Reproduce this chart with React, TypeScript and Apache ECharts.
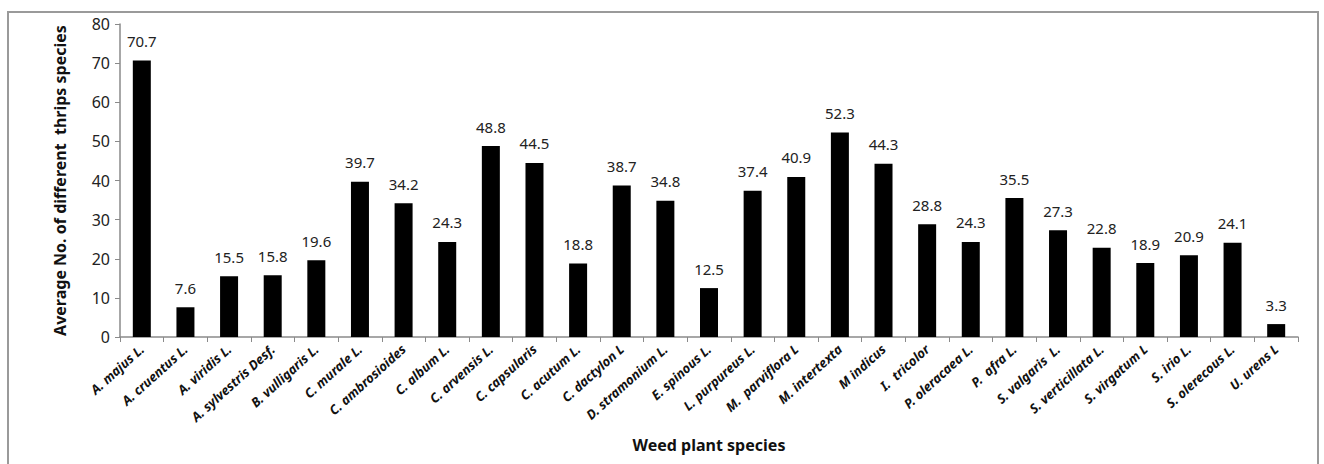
import React, { useEffect, useRef } from "react";
import * as echarts from "echarts";

const categories = [
  "A. majus L.", "A. cruentus L.", "A. viridis L.", "A. sylvestris Desf.", "B. vulligaris L.",
  "C. murale L.", "C. ambrosioides", "C. album L.", "C. arvensis L.", "C. capsularis",
  "C. acutum L.", "C. dactylon L", "D. stramonium L.", "E. spinous L.", "L. purpureus L.",
  "M.  parviflora L", "M. intertexta", "M indicus", "I.  tricolor", "P. oleracaea L.",
  "P.  afra L.", "S. valgaris  L.", "S. verticillata L.", "S. virgatum L", "S. irio L.",
  "S. olerecous L.", "U. urens L",
];

const values = [
  70.7, 7.6, 15.5, 15.8, 19.6, 39.7, 34.2, 24.3, 48.8, 44.5, 18.8, 38.7, 34.8, 12.5, 37.4,
  40.9, 52.3, 44.3, 28.8, 24.3, 35.5, 27.3, 22.8, 18.9, 20.9, 24.1, 3.3,
];

const yAxisName = "Average No. of different  thrips species";
const xAxisName = "Weed plant species";

export default function App() {
  const ref = useRef<HTMLDivElement>(null);
  useEffect(() => {
    if (!ref.current) return;
    const chart = echarts.init(ref.current, undefined, { renderer: "svg" });
    chart.setOption({
      animation: false,
      backgroundColor: "#fff",
      graphic: [
        {
          type: "rect",
          shape: { x: 8, y: 12, width: 1310, height: 470 },
          style: { fill: "none", stroke: "#9a9a9a", lineWidth: 2 },
          silent: true,
        },
      ],
      grid: { left: 120, right: 26, top: 24, bottom: 127, containLabel: false },
      xAxis: {
        type: "category",
        data: categories,
        name: xAxisName,
        nameLocation: "middle",
        nameGap: 100,
        nameTextStyle: { fontFamily: "Noto Sans", fontWeight: "bold", fontSize: 16, color: "#111" },
        axisLine: { lineStyle: { color: "#8a8a8a", width: 1.5 } },
        axisTick: { show: true, alignWithLabel: false, length: 5, lineStyle: { color: "#8a8a8a" } },
        axisLabel: {
          rotate: 42,
          interval: 0,
          margin: 10,
          fontFamily: "Noto Sans",
          fontStyle: "italic",
          fontWeight: "bold",
          fontSize: 13,
          color: "#111",
        },
      },
      yAxis: {
        type: "value",
        min: 0,
        max: 80,
        interval: 10,
        name: yAxisName,
        nameLocation: "middle",
        nameGap: 52,
        nameTextStyle: { fontFamily: "Noto Sans", fontWeight: "bold", fontSize: 16, color: "#111" },
        axisLine: { show: true, lineStyle: { color: "#8a8a8a", width: 1.5 } },
        axisTick: { show: true, length: 5, lineStyle: { color: "#8a8a8a" } },
        axisLabel: { fontFamily: "Noto Sans", fontSize: 16, color: "#222", margin: 10 },
        splitLine: { show: false },
      },
      series: [
        {
          type: "bar",
          data: values,
          barWidth: 18,
          itemStyle: { color: "#000" },
          label: {
            show: true,
            position: "top",
            distance: 12,
            fontFamily: "Noto Sans",
            fontSize: 15,
            color: "#222",
            formatter: (p: any) => p.value.toFixed(1),
          },
        },
      ],
    });
    return () => chart.dispose();
  }, []);
  return (
    <div
      ref={ref}
      style={{ position: "absolute", left: 0, top: 0, width: 1324, height: 464 }}
    />
  );
}
